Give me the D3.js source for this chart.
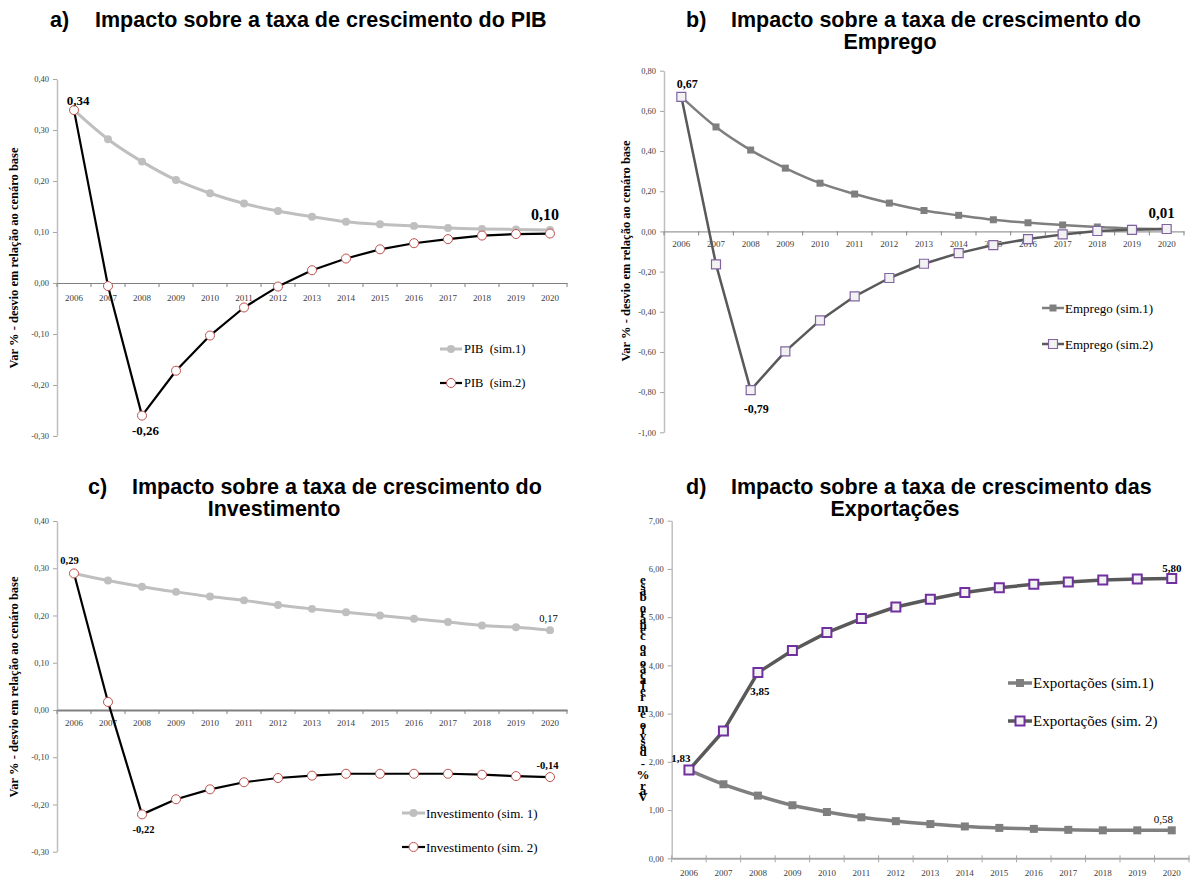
<!DOCTYPE html>
<html>
<head>
<meta charset="utf-8">
<script src="https://cdn.jsdelivr.net/npm/d3@7"></script>
<style>
    body { margin: 0; background: #fff; }
    svg { display: block; font-family: "Liberation Serif", "Times New Roman", serif; }
    .title { font-family: "Liberation Sans", Arial, sans-serif; font-weight: bold; font-size: 21.5px; fill: #000; }
    .tick text { font-family: "Liberation Serif", serif; font-size: 9px; fill: #404040; }
    .ytitle { font-weight: bold; font-size: 12.5px; fill: #000; }
    .legend text { fill: #000; }
</style>
</head>
<body>
<svg id="chart" width="1190" height="877"></svg>
<script>
// simulated deviations vs. baseline scenario, 2006-2020
const years = ["2006", "2007", "2008", "2009", "2010", "2011", "2012", "2013", "2014", "2015", "2016", "2017", "2018", "2019", "2020"];

const pibSim1 = [0.339, 0.282, 0.238, 0.202, 0.176, 0.156, 0.141, 0.130, 0.120, 0.115, 0.112, 0.108, 0.106, 0.105, 0.104];
const pibSim2 = [0.339, -0.006, -0.260, -0.172, -0.103, -0.048, -0.007, 0.025, 0.048, 0.066, 0.078, 0.086, 0.093, 0.096, 0.097];

const empSim1 = [0.67, 0.52, 0.405, 0.315, 0.24, 0.186, 0.141, 0.104, 0.080, 0.058, 0.043, 0.032, 0.022, 0.015, 0.012];
const empSim2 = [0.67, -0.164, -0.79, -0.597, -0.443, -0.323, -0.232, -0.161, -0.108, -0.068, -0.038, -0.015, 0.002, 0.008, 0.012];

const invSim1 = [0.289, 0.274, 0.261, 0.250, 0.240, 0.232, 0.222, 0.214, 0.207, 0.200, 0.193, 0.186, 0.179, 0.175, 0.169];
const invSim2 = [0.289, 0.017, -0.221, -0.189, -0.168, -0.153, -0.144, -0.139, -0.135, -0.135, -0.135, -0.135, -0.137, -0.140, -0.142];

const expSim1 = [1.83, 1.535, 1.30, 1.10, 0.96, 0.85, 0.77, 0.71, 0.66, 0.63, 0.61, 0.59, 0.58, 0.58, 0.58];
const expSim2 = [1.83, 2.64, 3.85, 4.31, 4.68, 4.97, 5.21, 5.37, 5.51, 5.61, 5.68, 5.73, 5.77, 5.79, 5.80];

const yTitle = "Var % - desvio em relação ao cenáro base";

const ptBR = d3.formatLocale({ decimal: ",", thousands: ".", grouping: [3], currency: ["R$", ""], minus: "-" });
const fmt = ptBR.format(".2f");

// marker / line styles
const greyCircle = { stroke: "#BFBFBF", width: 3, symbol: d3.symbolCircle, size: 50, fill: "#BFBFBF", mStroke: "none", mWidth: 0 };
const redCircle = { stroke: "#000000", width: 2.2, symbol: d3.symbolCircle, size: 64, fill: "#ffffff", mStroke: "#C0504D", mWidth: 1 };
const greySquare = { stroke: "#7F7F7F", width: 2.5, symbol: d3.symbolSquare, size: 49, fill: "#7F7F7F", mStroke: "none", mWidth: 0 };
const purpleSquare = { stroke: "#595959", width: 2.5, symbol: d3.symbolSquare, size: 81, fill: "#F2F2F2", mStroke: "#8064A2", mWidth: 1.2 };

const panels = [
    {
        tag: "a)", title: ["Impacto sobre a taxa de crescimento do PIB"], tagX: 50, textX: 95, titleY: 27,
        xRange: [57, 567], yDomain: [-0.3, 0.4], yRange: [436, 79], yStep: 0.1,
        xLabelPad: 12, xAxisWidth: 1, xAxisColor: "#808080", tickBoth: false,
        series: [
            { name: "PIB\u00a0\u00a0(sim.1)", values: pibSim1, style: greyCircle, curve: d3.curveMonotoneX },
            { name: "PIB\u00a0\u00a0(sim.2)", values: pibSim2, style: redCircle, curve: d3.curveLinear }
        ],
        labels: [
            { s: 1, i: 0, dx: 4, dy: -5.5, size: 13, bold: true },
            { s: 1, i: 2, dx: 3.5, dy: 19, size: 13, bold: true },
            { s: 0, i: 14, dx: -5, dy: -10, size: 16, bold: true }
        ],
        legend: { x0: 440, x1: 462, tx: 464, ys: [349, 383], size: 12.5 },
        yTitle: { x: 18, y: 258 }
    },
    {
        tag: "b)", title: ["Impacto sobre a taxa de crescimento do", "Emprego"], tagX: 686, textX: 731, titleY: 27, line2X: 890,
        xRange: [664, 1184], yDomain: [-1, 0.8], yRange: [432.3, 70.7], yStep: 0.2,
        xLabelPad: 9.5, xAxisWidth: 1, xAxisColor: "#808080", tickBoth: false,
        series: [
            { name: "Emprego (sim.1)", values: empSim1, style: greySquare, curve: d3.curveMonotoneX },
            { name: "Emprego (sim.2)", values: empSim2, style: purpleSquare, curve: d3.curveLinear }
        ],
        labels: [
            { s: 1, i: 0, dx: 6, dy: -8.5, size: 12, bold: true },
            { s: 1, i: 2, dx: 5.5, dy: 23, size: 12, bold: true },
            { s: 0, i: 14, dx: -5, dy: -11, size: 15, bold: true }
        ],
        legend: { x0: 1042, x1: 1064, tx: 1065, ys: [308, 344], size: 13 },
        yTitle: { x: 630, y: 251 }
    },
    {
        tag: "c)", title: ["Impacto sobre a taxa de crescimento do", "Investimento"], tagX: 88, textX: 132, titleY: 494, line2X: 274,
        xRange: [57, 567], yDomain: [-0.3, 0.4], yRange: [851.7, 521], yStep: 0.1,
        xLabelPad: 10, xAxisWidth: 2, xAxisColor: "#808080", tickBoth: false,
        series: [
            { name: "Investimento (sim. 1)", values: invSim1, style: greyCircle, curve: d3.curveMonotoneX },
            { name: "Investimento (sim. 2)", values: invSim2, style: redCircle, curve: d3.curveLinear }
        ],
        labels: [
            { s: 1, i: 0, dx: -4.5, dy: -9, size: 10.5, bold: true },
            { s: 1, i: 2, dx: 1.5, dy: 19, size: 10.5, bold: true },
            { s: 0, i: 14, dx: -1.5, dy: -8.5, size: 10.5, bold: false },
            { s: 1, i: 14, dx: -2.5, dy: -8, size: 10.5, bold: true }
        ],
        legend: { x0: 402, x1: 425, tx: 426, ys: [813, 847], size: 13 },
        yTitle: { x: 18, y: 687 }
    },
    {
        tag: "d)", title: ["Impacto sobre a taxa de crescimento das", "Exportações"], tagX: 686, textX: 731, titleY: 494, line2X: 895,
        xRange: [671.7, 1189], yDomain: [0, 7], yRange: [858.3, 520.7], yStep: 1,
        xLabelPad: 11, xAxisWidth: 2, xAxisColor: "#A6A6A6", tickBoth: true,
        series: [
            { name: "Exportações (sim.1)", values: expSim1, style: Object.assign({}, greySquare, { width: 3.5, size: 64 }), curve: d3.curveMonotoneX },
            { name: "Exportações (sim. 2)", values: expSim2, style: Object.assign({}, purpleSquare, { width: 3.5, mStroke: "#7030A0", mWidth: 2 }), curve: d3.curveLinear }
        ],
        labels: [
            { s: 1, i: 0, dx: -8, dy: -7.6, size: 11, bold: true },
            { s: 1, i: 2, dx: 2, dy: 22, size: 11, bold: true },
            { s: 1, i: 14, dx: 0, dy: -7, size: 11, bold: true },
            { s: 0, i: 14, dx: -8.5, dy: -7.5, size: 11, bold: false }
        ],
        legend: { x0: 1008, x1: 1032, tx: 1033, ys: [683, 721], size: 15 },
        garbled: { x: 643, y0: 572, len: 232 }
    }
];

const svg = d3.select("#chart");

function drawPanel(p) {
    const g = svg.append("g");

    const x = d3.scaleBand().domain(years).range(p.xRange).padding(0);
    const y = d3.scaleLinear().domain(p.yDomain).range(p.yRange);
    const cx = i => x(years[i]) + x.bandwidth() / 2;

    // title
    g.append("text").attr("class", "title").attr("x", p.tagX).attr("y", p.titleY).text(p.tag);
    g.append("text").attr("class", "title").attr("x", p.textX).attr("y", p.titleY).text(p.title[0]);
    if (p.title[1]) {
        g.append("text").attr("class", "title").attr("x", p.line2X).attr("y", p.titleY + 22)
            .attr("text-anchor", "middle").text(p.title[1]);
    }

    // y axis
    const n = Math.round((p.yDomain[1] - p.yDomain[0]) / p.yStep);
    const yTicks = d3.range(n + 1).map(i => +(p.yDomain[0] + i * p.yStep).toFixed(2) || 0);
    const yAxis = g.append("g")
        .attr("transform", `translate(${p.xRange[0]},0)`)
        .call(d3.axisLeft(y).tickValues(yTicks).tickFormat(fmt).tickSize(4).tickSizeOuter(0).tickPadding(4));
    yAxis.select(".domain").attr("stroke", "#BFBFBF").attr("stroke-width", 1.5);
    yAxis.selectAll(".tick line").attr("stroke", "#A6A6A6");
    yAxis.selectAll(".tick text").style("font-size", "8.5px");

    // x axis at zero
    const y0 = y(0);
    const xAxis = g.append("g")
        .attr("transform", `translate(0,${y0})`)
        .call(d3.axisBottom(x).tickSize(0).tickSizeOuter(0).tickPadding(p.xLabelPad));
    xAxis.select(".domain").attr("stroke", p.xAxisColor).attr("stroke-width", p.xAxisWidth);
    xAxis.selectAll(".tick text").style("font-size", "9px");

    g.append("g").selectAll("line")
        .data(d3.range(years.length + 1))
        .join("line")
        .attr("x1", i => p.xRange[0] + i * x.step())
        .attr("x2", i => p.xRange[0] + i * x.step())
        .attr("y1", p.tickBoth ? y0 - 3 : y0)
        .attr("y2", y0 + 4)
        .attr("stroke", p.xAxisColor)
        .attr("stroke-width", 1);

    // series lines then markers
    p.series.forEach(s => {
        const line = d3.line().x((d, i) => cx(i)).y(d => y(d)).curve(s.curve);
        g.append("path")
            .datum(s.values)
            .attr("d", line)
            .attr("fill", "none")
            .attr("stroke", s.style.stroke)
            .attr("stroke-width", s.style.width)
            .attr("stroke-linejoin", "round");
    });
    p.series.forEach(s => {
        g.append("g").selectAll("path")
            .data(s.values)
            .join("path")
            .attr("transform", (d, i) => `translate(${cx(i)},${y(d)})`)
            .attr("d", d3.symbol().type(s.style.symbol).size(s.style.size))
            .attr("fill", s.style.fill)
            .attr("stroke", s.style.mStroke)
            .attr("stroke-width", s.style.mWidth);
    });

    // data labels
    g.append("g").selectAll("text")
        .data(p.labels)
        .join("text")
        .attr("x", d => cx(d.i) + d.dx)
        .attr("y", d => y(p.series[d.s].values[d.i]) + d.dy)
        .attr("text-anchor", "middle")
        .style("font-size", d => d.size + "px")
        .style("font-weight", d => d.bold ? "bold" : "normal")
        .text(d => fmt(p.series[d.s].values[d.i]));

    // legend
    const lg = g.append("g").attr("class", "legend");
    p.series.forEach((s, k) => {
        const ly = p.legend.ys[k];
        lg.append("line")
            .attr("x1", p.legend.x0).attr("x2", p.legend.x1)
            .attr("y1", ly).attr("y2", ly)
            .attr("stroke", s.style.stroke)
            .attr("stroke-width", s.style.width);
        lg.append("path")
            .attr("transform", `translate(${(p.legend.x0 + p.legend.x1) / 2},${ly})`)
            .attr("d", d3.symbol().type(s.style.symbol).size(s.style.size))
            .attr("fill", s.style.fill)
            .attr("stroke", s.style.mStroke)
            .attr("stroke-width", s.style.mWidth);
        lg.append("text")
            .attr("x", p.legend.tx)
            .attr("y", ly + p.legend.size * 0.35)
            .style("font-size", p.legend.size + "px")
            .text(s.name);
    });

    // y axis title
    if (p.yTitle) {
        g.append("text")
            .attr("class", "ytitle")
            .attr("transform", `translate(${p.yTitle.x},${p.yTitle.y}) rotate(-90)`)
            .attr("text-anchor", "middle")
            .text(yTitle);
    }
    if (p.garbled) {
        // the original's vertical title came out broken: upright glyphs, reversed, crammed
        g.append("text")
            .attr("class", "ytitle")
            .attr("x", p.garbled.x)
            .attr("y", p.garbled.y0)
            .attr("textLength", p.garbled.len)
            .attr("lengthAdjust", "spacing")
            .style("writing-mode", "vertical-rl")
            .style("text-orientation", "upright")
            .style("font-size", "13px")
            .text(Array.from(yTitle).reverse().join(""));
    }
}

panels.forEach(drawPanel);
</script>
</body>
</html>
